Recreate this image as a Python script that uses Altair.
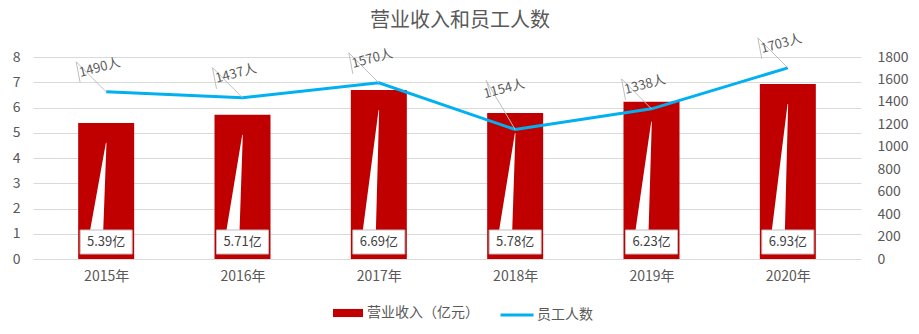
import json
import altair as alt
import pandas as pd

years = ["2015年", "2016年", "2017年", "2018年", "2019年", "2020年"]
revenue = [5.39, 5.71, 6.69, 5.78, 6.23, 6.93]
staff = [1490, 1437, 1570, 1154, 1338, 1703]
rev_series = "营业收入（亿元）"
staff_series = "员工人数"

FONT = "Noto Sans CJK SC"
RED = "#C00000"
BLUE = "#00B0F0"
GREY = "#595959"
LEAD = "#bfbfbf"

W, H = 828, 202

idx = list(range(len(years)))
df = pd.DataFrame({
    "i": idx,
    "year": years,
    "rev": revenue,
    "staff": staff,
    "rev_label": [f"{v:.2f}亿" for v in revenue],
    "staff_label": [f"{v}人" for v in staff],
    "zero": [0] * len(years),
    "series": [rev_series] * len(years),
    "series2": [staff_series] * len(years),
})

# white leader-wedges inside the bars (from label box up toward the bar top)
rows = []
for i, v in zip(idx, revenue):
    rows.append({"i": i, "x": i - 0.069, "y": 1.15, "w": 13, "o": 0})
    rows.append({"i": i, "x": i, "y": v - 0.8, "w": 0.6, "o": 1})
wedge_df = pd.DataFrame(rows)

x_scale = alt.Scale(domain=[-0.5, len(years) - 0.5], nice=False, zero=False)
x_axis = alt.Axis(
    values=idx,
    labelExpr=json.dumps(years, ensure_ascii=False) + "[datum.value]",
    grid=False, ticks=False, domain=False, labelPadding=10,
    labelFontSize=14, labelColor=GREY, labelFont=FONT, title=None,
    labelOverlap=False, labelFlush=False,
)
yl_scale = alt.Scale(domain=[0, 8], nice=False)
yl_axis = alt.Axis(
    values=list(range(9)), grid=True, gridColor="#d9d9d9", gridWidth=1,
    ticks=False, domain=False, labelPadding=13, labelFontSize=14,
    labelColor=GREY, labelFont=FONT, title=None, format="d",
)
yr_scale = alt.Scale(domain=[0, 1800], nice=False)
yr_axis = alt.Axis(
    orient="right", values=list(range(0, 1801, 200)), grid=False,
    ticks=False, domain=False, labelPadding=16, labelFontSize=14,
    labelColor=GREY, labelFont=FONT, title=None, format="d",
)

base = alt.Chart(df)

bars = base.mark_bar(size=56).encode(
    x=alt.X("i:Q", scale=x_scale, axis=x_axis),
    y=alt.Y("rev:Q", scale=yl_scale, axis=yl_axis),
    color=alt.Color(
        "series:N",
        scale=alt.Scale(domain=[rev_series], range=[RED]),
        legend=alt.Legend(
            title=None, orient="none", legendX=300, legendY=241,
            symbolType="M-1,-0.27H1V0.27H-1Z", symbolSize=900,
            symbolStrokeWidth=0, labelFontSize=14, labelColor=GREY,
            labelFont=FONT, labelOffset=4, padding=0,
        ),
    ),
)

wedges = alt.Chart(wedge_df).mark_trail(color="white").encode(
    x=alt.X("x:Q", scale=x_scale, axis=x_axis),
    y=alt.Y("y:Q", scale=yl_scale, axis=yl_axis),
    size=alt.Size("w:Q", scale=None, legend=None),
    detail="i:N",
    order="o:Q",
)

boxes = base.mark_bar(
    size=52, fill="white", stroke=LEAD, strokeWidth=1, yOffset=-5, y2Offset=-29
).encode(
    x=alt.X("i:Q", scale=x_scale, axis=x_axis),
    y=alt.Y("zero:Q", scale=yl_scale, axis=yl_axis),
    y2="zero:Q",
)

box_text = base.mark_text(
    fontSize=13, color="#404040", dy=-17, font=FONT
).encode(
    x=alt.X("i:Q", scale=x_scale, axis=x_axis),
    y=alt.Y("zero:Q", scale=yl_scale, axis=yl_axis),
    text="rev_label:N",
)

left = alt.layer(bars, wedges, boxes, box_text)

line = base.mark_line(strokeWidth=3).encode(
    x=alt.X("i:Q", scale=x_scale, axis=x_axis),
    y=alt.Y("staff:Q", scale=yr_scale, axis=yr_axis),
    stroke=alt.Stroke(
        "series2:N",
        scale=alt.Scale(domain=[staff_series], range=[BLUE]),
        legend=alt.Legend(
            title=None, orient="none", legendX=466, legendY=240,
            symbolType="stroke", symbolSize=1089, symbolStrokeWidth=3,
            labelFontSize=14, labelColor=GREY, labelFont=FONT,
            labelOffset=2, padding=0,
        ),
    ),
)

enc = dict(
    x=alt.X("i:Q", scale=x_scale, axis=x_axis),
    y=alt.Y("staff:Q", scale=yr_scale, axis=yr_axis),
)
enc2 = dict(x2="i:Q", y2="staff:Q")

normal = "datum.year != '2018年'"
special = "datum.year == '2018年'"

lead_a = base.transform_filter(normal).mark_rule(
    color=LEAD, strokeWidth=1, x2Offset=-30, y2Offset=-30
).encode(**enc, **enc2)
lead_b = base.transform_filter(normal).mark_rule(
    color=LEAD, strokeWidth=1, xOffset=-30, yOffset=-30, x2Offset=-26, y2Offset=-9
).encode(**enc, **enc2)
lead_c = base.transform_filter(special).mark_rule(
    color=LEAD, strokeWidth=1, x2Offset=-29, y2Offset=-49
).encode(**enc, **enc2)
lead_d = base.transform_filter(special).mark_rule(
    color=LEAD, strokeWidth=1, xOffset=-29, yOffset=-49, x2Offset=-24, y2Offset=-34
).encode(**enc, **enc2)

lab_a = base.transform_filter(normal).mark_text(
    angle=345, dx=0, dy=-25, fontSize=13, color=GREY, font=FONT
).encode(**enc, text="staff_label:N")
lab_b = base.transform_filter(special).mark_text(
    angle=345, dx=0, dy=-42, fontSize=13, color=GREY, font=FONT
).encode(**enc, text="staff_label:N")

right = alt.layer(line, lead_a, lead_b, lead_c, lead_d, lab_a, lab_b)

chart = (
    alt.layer(left, right)
    .resolve_scale(y="independent")
    .properties(
        width=W,
        height=H,
        title=alt.TitleParams(
            "营业收入和员工人数", fontSize=20, color=GREY, font=FONT,
            fontWeight="normal", anchor="middle", frame="group",
            offset=2, dx=13,
        ),
        autosize=alt.AutoSizeParams(type="none"),
        padding={"left": 33, "top": 57, "right": 58, "bottom": 75},
    )
    .configure(font=FONT, background="white")
    .configure_view(stroke=None)
)

chart.save("out.html", embed_options={"renderer": "svg", "actions": False})
